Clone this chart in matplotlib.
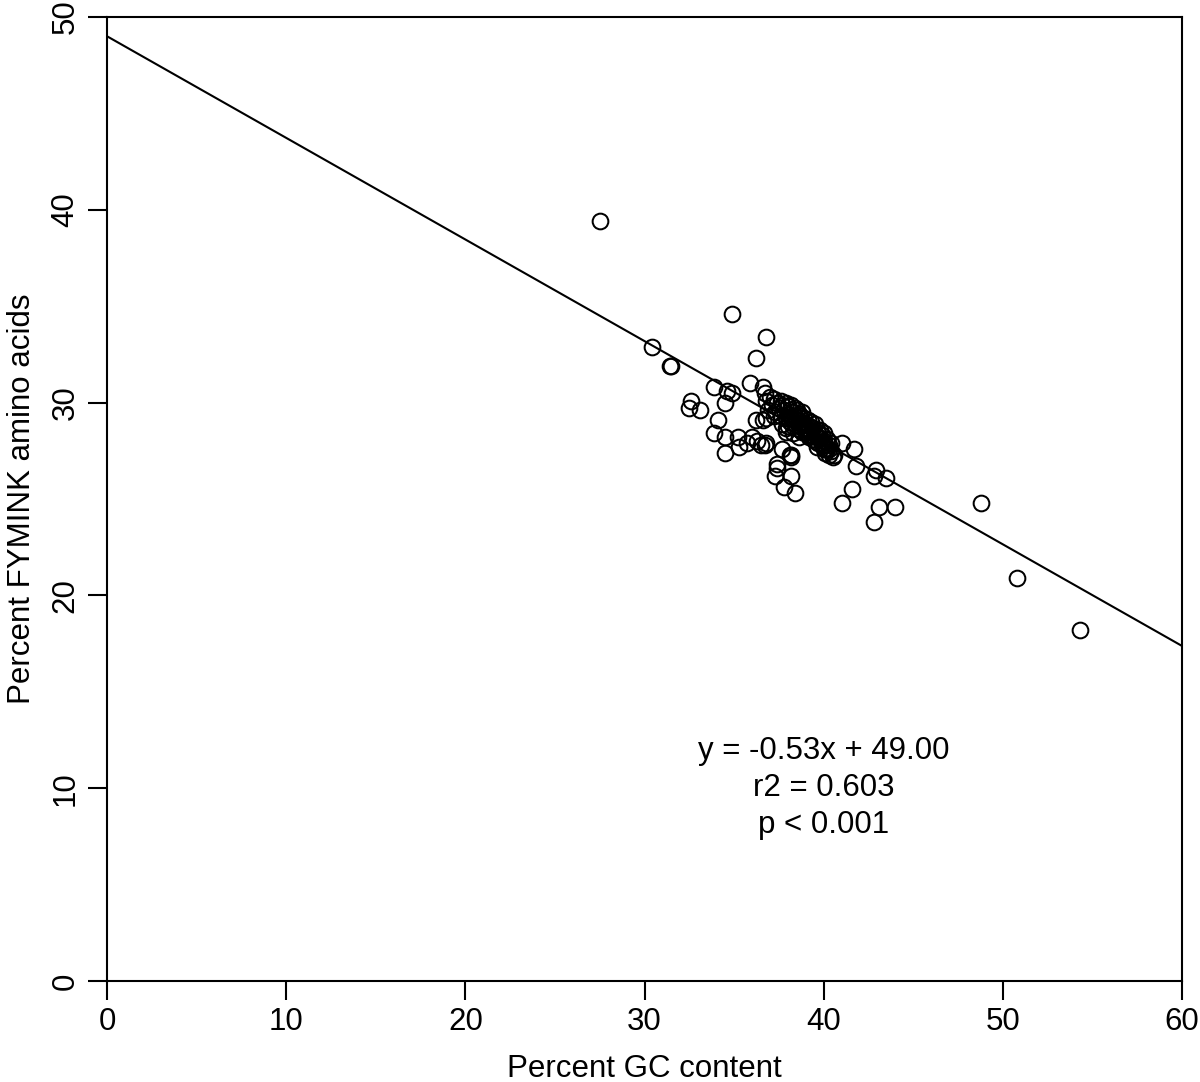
import matplotlib
matplotlib.use('Agg')
import numpy as np
import matplotlib.pyplot as plt

plt.rcParams['font.family'] = ['Liberation Sans', 'DejaVu Sans']

# percent GC content vs percent FYMINK amino acids
gc = [27.5, 30.4, 31.4, 31.5, 34.9, 36.8, 36.2, 33.9, 32.6, 32.5, 33.1,
      34.6, 34.9, 34.5, 34.1, 33.9, 34.5, 35.2, 34.5, 35.3, 35.7, 36.0,
      36.3, 36.5, 36.7, 35.9, 36.2, 36.8, 37.4, 37.4, 37.3, 38.1, 37.8,
      38.2, 38.4, 38.0, 37.7, 38.2,
      41.0, 41.7, 41.8, 42.9, 42.8, 43.5, 41.6, 41.0, 43.1, 44.0, 42.8,
      40.6, 48.8, 50.8, 54.3,
      # dense cluster
      36.7, 36.8, 37.0, 37.1, 37.2, 37.4, 37.5, 37.6, 37.7, 37.8, 37.9,
      38.0, 38.0, 38.1, 38.2, 38.2, 38.3, 38.4, 38.4, 38.5, 38.5, 38.6,
      38.6, 38.7, 38.7, 38.8, 38.8, 38.9, 38.9, 39.0, 39.0, 39.1, 39.1,
      39.2, 39.2, 39.3, 39.3, 39.4, 39.4, 39.5, 39.5, 39.6, 39.6, 39.7,
      39.7, 39.8, 39.8, 39.9, 39.9, 40.0, 40.0, 40.0, 40.1, 40.1, 40.2,
      40.2, 40.3, 40.3, 40.4, 40.5, 37.9, 38.0, 37.7, 38.3, 38.6, 37.3,
      36.9, 37.2, 36.6, 36.6, 36.8, 37.9, 38.2,
      38.1, 38.3, 38.5, 38.8, 39.0, 39.2, 39.5, 39.7, 39.9, 40.1, 38.9,
      39.3, 39.6, 38.4, 38.7, 40.3, 40.4, 37.6, 37.9, 39.1]
fymink = [39.4, 32.9, 31.9, 31.9, 34.6, 33.4, 32.3, 30.8, 30.1, 29.7, 29.6,
          30.6, 30.5, 30.0, 29.1, 28.4, 28.2, 28.2, 27.4, 27.7, 27.9, 28.2,
          28.0, 27.8, 27.8, 31.0, 29.1, 29.2, 26.8, 26.6, 26.2, 27.3, 25.6,
          26.2, 25.3, 29.8, 27.6, 27.2,
          27.9, 27.6, 26.7, 26.5, 26.2, 26.1, 25.5, 24.8, 24.6, 24.6, 23.8,
          27.3, 24.8, 20.9, 18.2,
          30.5, 30.1, 30.3, 29.9, 30.2, 30.0, 29.7, 30.1, 29.9, 29.6, 30.0,
          29.8, 29.4, 29.6, 29.2, 29.9, 29.5, 29.3, 28.9, 29.6, 29.1, 28.8,
          29.4, 29.2, 28.6, 29.0, 29.5, 28.7, 29.2, 28.9, 28.4, 29.1, 28.6,
          28.8, 28.2, 29.0, 28.5, 28.7, 28.1, 28.4, 28.9, 28.2, 28.6, 27.9,
          28.4, 28.1, 28.6, 27.8, 28.3, 27.6, 28.0, 28.4, 27.8, 27.4, 28.1,
          27.6, 27.3, 27.8, 27.5, 27.2, 28.5, 28.8, 28.9, 28.4, 28.2, 29.5,
          29.6, 29.3, 30.8, 29.1, 27.9, 28.7, 27.3,
          29.0, 28.8, 28.7, 28.5, 28.6, 28.3, 28.0, 28.2, 27.9, 27.6, 28.9,
          28.3, 27.7, 29.7, 29.3, 27.6, 27.9, 29.3, 29.2, 28.3]

slope = -0.527
intercept = 49.0
stats_text = 'y = -0.53x + 49.00\nr2 = 0.603\np < 0.001'

fig = plt.figure(figsize=(12, 10.82), dpi=100)
ax = fig.add_axes([0.0892, 0.0933, 0.8958, 0.891])

ax.plot(gc, fymink, 'o', markerfacecolor='none', markeredgecolor='black',
        markersize=11.3, markeredgewidth=1.45, zorder=3)
xs = np.array([0, 60])
ax.plot(xs, intercept + slope * xs, color='black', lw=1.5)

ax.text(40, 10.0, stats_text, ha='center', va='center', fontsize=22.5,
        linespacing=1.3)

ax.set_xlim(0, 60)
ax.set_ylim(0, 50)
ax.set_xticks(range(0, 61, 10))
ax.set_yticks(range(0, 51, 10))
ax.tick_params(direction='out', length=14, width=1.5, labelsize=22.5, pad=5)
for lab in ax.get_yticklabels():
    lab.set_rotation(90)
    lab.set_va('center')
for s in ax.spines.values():
    s.set_linewidth(1.5)
ax.set_xlabel('Percent GC content', fontsize=22.5, labelpad=12)
ax.set_ylabel('Percent FYMINK amino acids', fontsize=22.5, labelpad=10)

fig.savefig('out.png', dpi=100)
